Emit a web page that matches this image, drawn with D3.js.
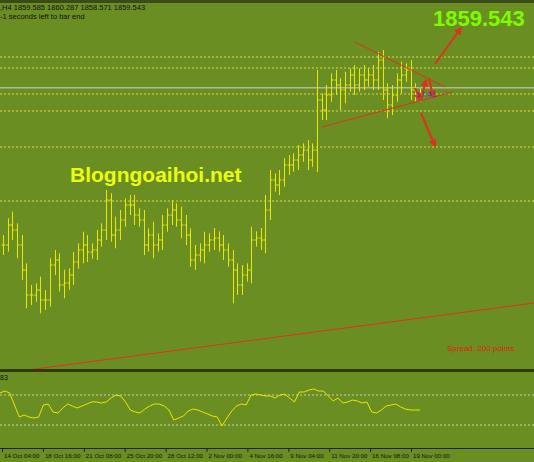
<!DOCTYPE html><html><head><meta charset="utf-8">
<script src="https://cdn.jsdelivr.net/npm/d3@7"></script>
<style>body{margin:0;background:#6b8e23}svg{display:block}</style></head><body>
<script>
const closes=[1812.7,1818.7,1817.2,1812.7,1805.2,1797.7,1797.7,1799.2,1796.2,1796.2,
1806.7,1808.2,1800.7,1801.3,1803.7,1807.6,1811.2,1812.7,1810.6,1811.2,
1814.2,1817.2,1826.2,1815.7,1817.2,1820.2,1824.7,1824.7,1821.7,1820.2,
1812.7,1815.7,1812.7,1814.2,1818.7,1821.7,1823.2,1820.2,1818.7,1815.7,
1808.2,1809.7,1811.2,1812.7,1814.2,1814.8,1812.7,1811.2,1808.2,1805.2,
1800.7,1803.7,1805.2,1814.2,1814.8,1814.2,1823.2,1832.2,1830.7,1832.2,
1836.7,1836.7,1838.2,1839.7,1841.2,1838.2,1841.2,1856.2,1853.2,1857.7,
1862.2,1860.7,1859.2,1860.7,1863.7,1860.7,1863.7,1862.2,1863.7,1862.2,
1868.2,1859.2,1854.7,1857.7,1862.2,1863.7,1865.2,1859.2,1857.7,1857.7];
const wickUp=[3,2,4,2,3,2,3,2,4,3,2,3,2,4,2,3,2,4,3,2,3,2,3,2,4,3,2,3,3,2,
3,2,4,2,3,2,3,2,4,3,2,3,2,4,2,3,2,3,2,3,2,3,2,4,2,3,4.5,3,2,3,2,3,2,3,2,3,2,9,2,3,
2,3,2,4,2,3,2,3,2,3,2.4,3,2,3,2,4,2,3,2,2];
const wickDn=[3,2,3,4,3,4,3,2,4,3,2,3,2,4,2,3,2,4,3,2,3,2,3,2,4,3,2,3,3,2,
3,2,4,2,3,2,3,2,4,3,2,3,2,4,2,3,2,3,2,10,3,3,2,4,2,3,4,3,2,3,2,3,2,3,2,3,2,6.6,3,3,
2,3,6,4,2,3,2,3,2,3,3,3,4,3,2,4,2,3,2,2];
const osc=[72.7,75.3,72.7,56.7,40.7,43.3,40.7,39.3,40.7,56.7,58,47.3,46,52.7,58,55.3,52.7,55.3,58,60.7,60.7,59.3,60.7,66,70,68.7,60.7,50,47.3,46,51.3,55.3,58,58,55.3,50,36.7,39.3,42,48.7,51.3,50,47.3,44.7,42,40.7,28.7,39.3,48.7,55.3,58,56.7,70,71.3,70,68.7,68.7,66,70,71.3,66,60.7,74,74,76.7,78,75.3,75.3,68.7,62,66,59.3,60.7,63.3,62,59.3,60.7,47.3,46,50,55.3,56.7,58,54,51.3,50,50,50];
const levels=[1869.1,1865.8,1858.0,1852.9,1842.1,1825.9];
const oscLevels=[70,30];
const timeLabels=["14 Oct 04:00","18 Oct 16:00","21 Oct 08:00","25 Oct 20:00","28 Oct 12:00","2 Nov 00:00","4 Nov 16:00","9 Nov 04:00","11 Nov 20:00","16 Nov 08:00","19 Nov 00:00"];
const lastPrice=1859.543;

const W=534,H=462;
const svg=d3.select("body").append("svg").attr("width",W).attr("height",H);
const x=d3.scaleLinear().domain([0,closes.length-1]).range([3,420]);
const y=d3.scaleLinear().domain([1886.2-0.3*370,1886.2]).range([370,0]);
const xo=d3.scaleLinear().domain([0,osc.length-1]).range([0,420]);
const yo=d3.scaleLinear().domain([30,70]).range([425,395]);
const Y="#e8e800";
svg.append("rect").attr("width",W).attr("height",3).attr("fill","#3a4a18");
levels.forEach(l=>svg.append("line").attr("x1",0).attr("x2",W).attr("y1",y(l)).attr("y2",y(l)).attr("stroke","#d8d840").attr("stroke-dasharray","2,2").attr("stroke-width",1));
svg.append("line").attr("x1",0).attr("x2",W).attr("y1",y(lastPrice)-1).attr("y2",y(lastPrice)-1).attr("stroke","#b0b8a0").attr("stroke-width",1.5);
const g=svg.append("g").attr("stroke",Y).attr("stroke-width",1);
closes.forEach((c,i)=>{const o=i?closes[i-1]:c;const X=Math.round(x(i))+0.5;
 g.append("line").attr("x1",X).attr("x2",X).attr("y1",y(Math.max(o,c)+wickUp[i])).attr("y2",y(Math.min(o,c)-wickDn[i]));
 g.append("line").attr("x1",X-2).attr("x2",X).attr("y1",y(o)).attr("y2",y(o));
 g.append("line").attr("x1",X).attr("x2",X+2).attr("y1",y(c)).attr("y2",y(c));});
const red="#e03020";
function ln(a,b,c,d,w){svg.append("line").attr("x1",a).attr("y1",b).attr("x2",c).attr("y2",d).attr("stroke",red).attr("stroke-width",w||1);}
ln(355,42,445,87);ln(322,127,453,92);ln(20,371,534,303);
svg.append("defs").append("marker").attr("id","ah").attr("viewBox","0 0 10 10").attr("refX",8).attr("refY",5).attr("markerWidth",4).attr("markerHeight",4).attr("orient","auto").append("path").attr("d","M0,0L10,5L0,10z").attr("fill",red);
[[435,64,461,28],[421,113,435,146],[415,88,420,100],[421,100,426,80],[429,78,433,97]].forEach(a=>svg.append("line").attr("x1",a[0]).attr("y1",a[1]).attr("x2",a[2]).attr("y2",a[3]).attr("stroke",red).attr("stroke-width",2).attr("marker-end","url(#ah)"));
svg.append("text").attr("x",416).attr("y",97).attr("font-size",8).attr("fill","#3040c0").attr("font-family","Arial").text("17:41");
svg.append("text").attr("x",0).attr("y",10).attr("font-size",7.5).attr("fill","#111").attr("font-family","Arial").text(",H4  1859.585 1860.287 1858.571 1859.543");
svg.append("text").attr("x",0).attr("y",19).attr("font-size",7.5).attr("fill","#111").attr("font-family","Arial").text("-1 seconds left to bar end");
svg.append("text").attr("x",433).attr("y",26).attr("font-size",22).attr("font-weight","bold").attr("fill","#7cfc00").attr("font-family","Liberation Sans,Arial").text(lastPrice.toFixed(3));
svg.append("text").attr("x",70).attr("y",182).attr("font-size",21).attr("font-weight","bold").attr("fill","#eaff10").attr("font-family","Liberation Sans,Arial").text("Blogngoaihoi.net");
svg.append("text").attr("x",447).attr("y",351).attr("font-size",8).attr("fill","#e02010").attr("font-family","Arial").text("Spread: 200 points");
svg.append("rect").attr("x",0).attr("y",369).attr("width",W).attr("height",3).attr("fill","#2e3a10");
oscLevels.forEach(l=>svg.append("line").attr("x1",0).attr("x2",W).attr("y1",yo(l)).attr("y2",yo(l)).attr("stroke","#c8d0b0").attr("stroke-dasharray","2,2"));
svg.append("text").attr("x",0).attr("y",380).attr("font-size",7).attr("fill","#111").attr("font-family","Arial").text("83");
svg.append("path").attr("d",d3.line().x((d,i)=>xo(i)).y(d=>yo(d))(osc)).attr("fill","none").attr("stroke",Y).attr("stroke-width",1);
svg.append("line").attr("x1",0).attr("x2",W).attr("y1",448.5).attr("y2",448.5).attr("stroke","#222");
const xt=d3.scaleLinear().domain([0,timeLabels.length-1]).range([2,411]);
timeLabels.forEach((t,i)=>{svg.append("line").attr("x1",xt(i)+.5).attr("x2",xt(i)+.5).attr("y1",448).attr("y2",452).attr("stroke","#222");
 svg.append("text").attr("x",xt(i)+2).attr("y",458).attr("font-size",6.2).attr("fill","#111").attr("font-family","Arial").text(t);});
</script></body></html>
